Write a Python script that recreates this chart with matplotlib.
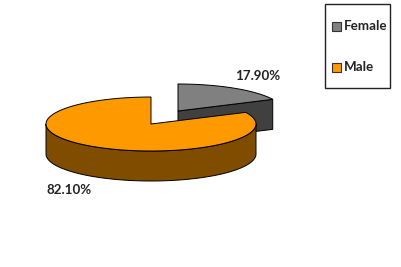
import numpy as np
import matplotlib
matplotlib.use("Agg")
import matplotlib.pyplot as plt
from matplotlib.patches import Polygon, Rectangle

labels = ["Female", "Male"]
shares = [17.90, 82.10]
share_labels = ["17.90%", "82.10%"]
top_colors = ["#808080", "#FF9900"]
side_colors = ["#404040", "#7F4C00"]

RX, RY, DEPTH = 105, 27, 30
plt.rcParams["font.family"] = ["Lato", "DejaVu Sans"]


def rim(cx, cy, a0, a1, n=200):
    # angles clockwise from 12 o'clock, y axis points down
    t = np.radians(np.linspace(a0, a1, n))
    return np.column_stack([cx + RX * np.sin(t), cy - RY * np.cos(t)])


fig = plt.figure(figsize=(4.01, 2.67), dpi=100)
ax = fig.add_axes([0, 0, 1, 1])
ax.set_xlim(0, 401)
ax.set_ylim(267, 0)
ax.axis("off")

split = 360 * shares[0] / sum(shares)

# female slice, pulled out to the upper right
fc = (178, 111)
arc = rim(fc[0], fc[1], 0, split)
end = arc[-1]
face = [fc, end, (end[0], end[1] + DEPTH), (fc[0], fc[1] + DEPTH)]
ax.add_patch(Polygon(face, fc=side_colors[0], ec="black", lw=0.7))
ax.add_patch(Polygon(np.vstack([[fc], arc]), fc=top_colors[0], ec="black", lw=0.7))

# male slice
mc = (151, 124)
front = rim(mc[0], mc[1], 90, 270)
wall = np.vstack([front, front[::-1] + [0, DEPTH]])
ax.add_patch(Polygon(wall, fc=side_colors[1], ec="black", lw=0.7))
arc = rim(mc[0], mc[1], split, 360)
ax.add_patch(Polygon(np.vstack([[mc], arc]), fc=top_colors[1], ec="black", lw=0.7))

ax.text(258, 75.5, share_labels[0], ha="center", va="center", fontsize=9.6,
        fontweight="bold", color="#222222")
ax.text(69, 190, share_labels[1], ha="center", va="center", fontsize=9.6,
        fontweight="bold", color="#222222")

# legend box
ax.add_patch(Rectangle((325, 4), 65, 84, fc="white", ec="#222222", lw=1))
for name, col, y in zip(labels, top_colors, [26, 67]):
    ax.add_patch(Rectangle((332, y - 4), 8.5, 8.5, fc=col, ec="#333333", lw=0.8))
    ax.text(344, y, name, ha="left", va="center", fontsize=9.6,
            fontweight="bold", color="#222222")

fig.savefig("out.png", dpi=100)
